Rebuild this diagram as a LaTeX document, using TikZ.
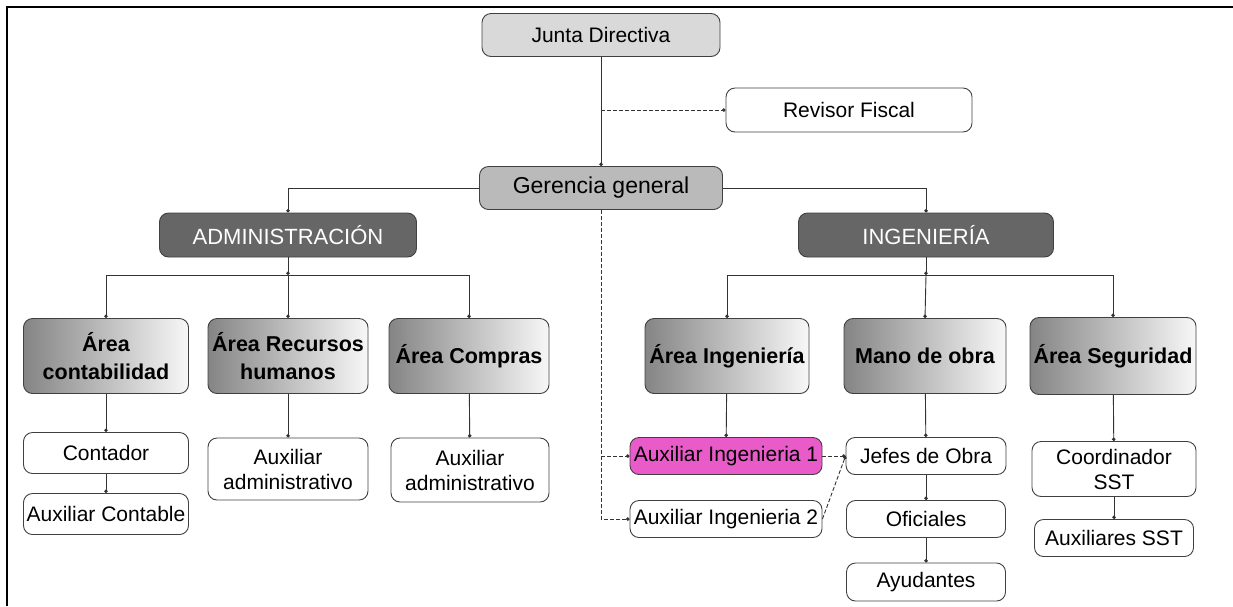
\documentclass[tikz,border=0pt]{standalone}
\usepackage{fontspec}
\setmainfont{Liberation Sans}
\usetikzlibrary{arrows.meta}
\definecolor{rosa}{HTML}{E95BC8}

\tikzset{
  caja/.style={draw=black!75, line width=0.9pt, rounded corners=9pt, inner sep=0pt,
    align=center, font=\fontsize{21}{25}\selectfont},
  area/.style={caja, left color=black!48, right color=black!3,
    font=\fontsize{21.5}{28}\selectfont\bfseries},
  jefe/.style={caja, fill=black!60, text=white, font=\fontsize{22}{26}\selectfont},
  linea/.style={draw=black!80, line width=0.9pt, -{Circle[length=3.5pt]}},
  punteada/.style={linea, dashed, dash pattern=on 4pt off 2pt},
}

\begin{document}
\begin{tikzpicture}[x=1pt, y=-1pt]
        \useasboundingbox (0,0) rectangle (1233,606);
        \draw [line width=2pt] (7,606) -- (7,7) -- (1233,7);                            % marco

        \node [caja, fill=black!15, minimum width=238, minimum height=43] (junta)    at (601,35)  {Junta Directiva};
        \node [caja, minimum width=246, minimum height=44]               (revisor)  at (849,110) {Revisor Fiscal};
        \node [caja, fill=black!27, minimum width=243, minimum height=43,
               font=\fontsize{23}{26}\selectfont]                          (gerencia) at (601,188) {Gerencia general};
        \node [jefe, minimum width=257, minimum height=44]               (admin)    at (288,235) {ADMINISTRACIÓN};
        \node [jefe, minimum width=255, minimum height=44]               (ing)      at (926,235) {INGENIERÍA};

        % areas
        \node [area, minimum width=165, minimum height=75] (acont) at (106,356)  {Área\\contabilidad};
        \node [area, minimum width=160, minimum height=75] (arrhh) at (288,356)  {Área Recursos\\humanos};
        \node [area, minimum width=160, minimum height=75] (acomp) at (469,356)  {Área Compras};
        \node [area, minimum width=164, minimum height=75] (aing)  at (727,356)  {Área Ingeniería};
        \node [area, minimum width=162, minimum height=75] (mano)  at (925,356)  {Mano de obra};
        \node [area, minimum width=166, minimum height=77] (aseg)  at (1113,356) {Área Seguridad};

        % cargos
        \node [caja, minimum width=165, minimum height=41] (contador)  at (106,453)  {Contador};
        \node [caja, minimum width=165, minimum height=41] (auxcont)   at (106,514)  {Auxiliar Contable};
        \node [caja, minimum width=160, minimum height=62] (auxrh)     at (288,469)  {Auxiliar\\administrativo};
        \node [caja, minimum width=158, minimum height=64] (auxcomp)   at (470,470)  {Auxiliar\\administrativo};
        \node [caja, fill=rosa, minimum width=192, minimum height=37] (auxing1) at (726,456) {Auxiliar Ingenieria 1};
        \node [caja, minimum width=192, minimum height=37] (auxing2)   at (726,519)  {Auxiliar Ingenieria 2};
        \node [caja, minimum width=160, minimum height=37] (jefes)     at (926,456)  {Jefes de Obra};
        \node [caja, minimum width=159, minimum height=37] (oficiales) at (926,519)  {Oficiales};
        \node [caja, minimum width=159, minimum height=38] (ayudantes) at (926,582)  {Ayudantes};
        \node [caja, minimum width=164, minimum height=55] (coord)     at (1114,469) {Coordinador\\SST};
        \node [caja, minimum width=159, minimum height=37] (auxsst)    at (1114,538) {Auxiliares SST};

        % conectores de arriba
        \draw [linea]    (junta) -- (gerencia);                                          %
        \draw [punteada] (junta.south |- revisor.west) -- (revisor.west);                % revisor
        \draw [linea]    (gerencia.west) -| (admin.north);                              %
        \draw [linea]    (gerencia.east) -| (ing.north);                                %
        \draw [punteada] (gerencia.south) |- (auxing2.west);                            %
        \draw [punteada] (gerencia.south |- auxing1.west) -- (auxing1.west);            %

        % barras
        \coordinate (abus) at (288,275);
        \coordinate (ibus) at (926,275);
        \draw [linea] (admin) -- (abus);
        \draw [linea] (ing) -- (ibus);
        \draw [linea] (abus) -| (acont.north);
        \draw [linea] (abus) -- (arrhh.north);
        \draw [linea] (abus) -| (acomp.north);
        \draw [linea] (ibus) -| (aing.north);
        \draw [linea] (ibus) -- (mano.north);
        \draw [linea] (ibus) -| (aseg.north);

        % abajo
        \draw [linea] (acont) -- (contador);
        \draw [linea] (contador) -- (auxcont);
        \draw [linea] (arrhh) -- (auxrh);
        \draw [linea] (acomp) -- (auxcomp);
        \draw [linea] (aing) -- (auxing1);
        \draw [linea] (mano) -- (jefes);
        \draw [linea] (jefes) -- (oficiales);
        \draw [linea] (oficiales) -- (ayudantes);
        \draw [linea] (aseg) -- (coord);
        \draw [linea] (coord) -- (auxsst);
        \draw [punteada] (auxing1.east) -- (jefes.west);
        \draw [punteada] (auxing2.east) -- (jefes.west);
\end{tikzpicture}
\end{document}
